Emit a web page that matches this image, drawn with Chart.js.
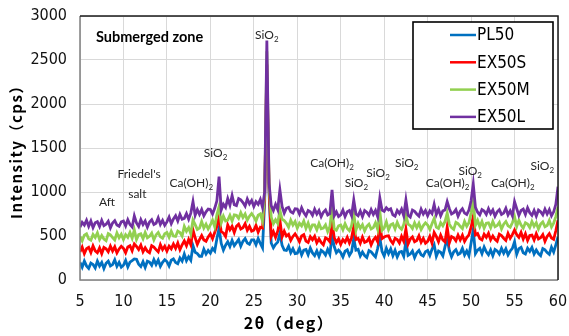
<!DOCTYPE html>
<html>
<head>
<meta charset="utf-8">
<script src="https://cdn.jsdelivr.net/npm/chart.js@4.4.1/dist/chart.umd.min.js"></script>
<style>
  html, body { margin: 0; padding: 0; background: #fff; }
  #wrap { width: 569px; height: 336px; }
</style>
</head>
<body>
<div id="wrap"><canvas id="xrdChart" width="569" height="336"></canvas></div>
<script>
// 2theta positions (deg), 0.25 deg step
const twoTheta = [
  5,5.25,5.5,5.75,6,6.25,6.5,6.75,7,7.25,7.5,7.75,8,8.25,8.5,8.75,9,9.25,9.5,9.75,
  10,10.25,10.5,10.75,11,11.25,11.5,11.75,12,12.25,12.5,12.75,13,13.25,13.5,13.75,14,14.25,14.5,14.75,
  15,15.25,15.5,15.75,16,16.25,16.5,16.75,17,17.25,17.5,17.75,18,18.25,18.5,18.75,19,19.25,19.5,19.75,
  20,20.25,20.5,20.75,21,21.25,21.5,21.75,22,22.25,22.5,22.75,23,23.25,23.5,23.75,24,24.25,24.5,24.75,
  25,25.25,25.5,25.75,26,26.25,26.5,26.75,27,27.25,27.5,27.75,28,28.25,28.5,28.75,29,29.25,29.5,29.75,
  30,30.25,30.5,30.75,31,31.25,31.5,31.75,32,32.25,32.5,32.75,33,33.25,33.5,33.75,34,34.25,34.5,34.75,
  35,35.25,35.5,35.75,36,36.25,36.5,36.75,37,37.25,37.5,37.75,38,38.25,38.5,38.75,39,39.25,39.5,39.75,
  40,40.25,40.5,40.75,41,41.25,41.5,41.75,42,42.25,42.5,42.75,43,43.25,43.5,43.75,44,44.25,44.5,44.75,
  45,45.25,45.5,45.75,46,46.25,46.5,46.75,47,47.25,47.5,47.75,48,48.25,48.5,48.75,49,49.25,49.5,49.75,
  50,50.25,50.5,50.75,51,51.25,51.5,51.75,52,52.25,52.5,52.75,53,53.25,53.5,53.75,54,54.25,54.5,54.75,
  55,55.25,55.5,55.75,56,56.25,56.5,56.75,57,57.25,57.5,57.75,58,58.25,58.5,58.75,59,59.25,59.5,59.75,
  60
];

const pl50 = [
  200,145,215,160,132,192,177,137,215,160,200,130,190,215,160,175,230,155,200,145,
  168,223,148,203,220,240,235,180,153,208,143,213,202,167,232,177,226,156,201,231,
  210,160,225,240,200,185,250,215,295,220,265,225,390,315,300,270,270,350,295,335,
  305,360,330,470,590,415,340,395,435,380,450,390,425,460,385,440,470,420,405,455,
  455,400,470,415,365,900,2300,1000,420,365,405,430,533,395,340,335,385,310,355,300,
  305,360,285,340,348,288,363,308,277,332,267,337,318,283,348,293,500,380,310,340,
  312,262,327,342,280,320,470,340,348,273,318,278,255,335,320,290,262,360,480,327,
  273,360,298,353,277,337,262,317,325,270,440,280,295,330,255,310,337,287,272,322,
  335,280,350,400,270,330,315,275,380,470,335,265,320,345,290,305,360,285,330,275,
  420,570,300,340,360,300,375,320,287,342,277,347,330,295,360,305,355,285,330,360,
  435,292,357,372,310,295,360,325,370,295,340,300,277,357,342,312,292,372,317,400,
  490
];

const ex50s = [
  320,375,300,355,372,312,387,332,310,365,300,370,355,320,385,330,378,308,353,383,
  360,310,375,390,332,410,382,347,397,322,367,327,310,390,375,345,320,400,345,385,
  330,385,355,410,360,420,345,400,445,390,460,400,570,480,405,460,505,455,440,490,
  525,470,540,610,720,550,535,495,625,570,610,540,610,635,580,595,640,565,610,555,
  565,620,545,600,590,950,2450,1050,495,550,485,555,682,490,555,500,520,450,495,525,
  485,435,500,515,442,427,492,457,497,422,467,427,400,480,465,435,660,482,427,467,
  405,460,430,485,420,480,610,460,473,418,488,428,440,475,400,455,485,435,620,470,
  488,500,503,448,415,475,460,420,495,440,580,410,465,490,435,450,503,428,473,418,
  440,495,420,540,495,435,510,455,433,600,423,493,480,445,510,455,508,438,483,513,
  600,720,513,528,470,455,520,485,531,456,501,461,440,520,505,475,450,530,475,515,
  568,515,485,540,465,525,450,505,511,456,526,466,480,515,440,495,527,477,462,560,
  680
];

const ex50m = [
  495,445,510,525,467,452,517,482,535,460,505,465,447,527,512,482,455,535,480,520,
  460,515,485,540,475,570,460,515,525,470,540,480,497,532,457,512,540,490,475,525,
  540,485,555,500,495,555,540,500,610,555,595,525,680,630,575,590,665,590,635,580,
  625,680,605,740,833,650,725,670,680,735,670,740,735,700,765,710,750,680,725,755,
  720,670,735,750,670,980,2600,1080,715,640,685,645,795,690,675,645,600,680,625,665,
  590,645,615,670,587,647,572,627,627,572,642,582,591,626,551,606,820,580,565,615,
  625,570,640,585,560,620,760,565,643,588,628,558,610,635,580,595,650,575,780,565,
  592,660,572,627,640,580,655,600,575,630,740,635,620,585,650,595,644,574,619,649,
  625,575,640,700,600,585,650,615,665,760,635,595,575,655,640,610,585,665,610,650,
  760,890,622,677,605,665,590,645,650,595,665,605,620,655,580,635,665,615,600,650,
  720,609,679,624,590,650,635,595,665,610,650,580,635,660,605,620,677,602,647,720,
  833
];

const ex50l = [
  600,655,625,680,610,670,595,650,662,607,677,617,633,668,593,648,675,625,610,660,
  670,615,685,630,603,727,648,608,685,630,670,600,660,685,630,645,707,632,677,622,
  660,715,640,695,730,670,745,690,700,755,690,760,890,735,800,745,800,730,775,805,
  800,750,815,900,1174,795,860,825,925,850,960,855,845,925,910,880,840,920,865,905,
  835,890,860,915,825,1000,2720,1100,845,790,860,800,1023,835,760,815,825,775,760,810,
  806,751,821,766,730,790,775,735,805,750,790,720,770,795,740,755,1023,730,775,720,
  740,795,720,775,790,730,909,750,730,785,720,790,770,735,800,745,790,720,932,795,
  780,820,795,810,740,725,790,755,805,730,909,735,715,795,780,750,725,805,750,790,
  730,785,755,860,745,805,730,785,795,890,810,750,765,800,725,780,810,760,745,795,
  900,1090,825,770,740,800,785,745,810,755,795,725,775,800,745,760,815,740,785,730,
  890,810,735,790,805,745,820,765,735,790,725,795,775,740,805,750,800,730,775,860,
  1060
];

const seriesNames = ['PL50', 'EX50S', 'EX50M', 'EX50L'];
const seriesColors = ['#0070C0', '#FF0000', '#92D050', '#7030A0'];
const seriesValues = [pl50, ex50s, ex50m, ex50l];

const xTicks = [5, 10, 15, 20, 25, 30, 35, 40, 45, 50, 55, 60];
const yTicks = [0, 500, 1000, 1500, 2000, 2500, 3000];

// peak annotations: text, subscript, 2theta, intensity
const peakLabels = [
  { t: 'SiO', s: '2', x: 26.5, y: 2784 },
  { t: 'Aft', s: '', x: 8.1, y: 886 },
  { t: "Friedel's", s: '', x: 11.8, y: 1205 },
  { t: 'salt', s: '', x: 11.6, y: 977 },
  { t: 'Ca(OH)', s: '2', x: 17.8, y: 1102 },
  { t: 'SiO', s: '2', x: 20.6, y: 1443 },
  { t: 'Ca(OH)', s: '2', x: 34.0, y: 1330 },
  { t: 'SiO', s: '2', x: 36.8, y: 1102 },
  { t: 'SiO', s: '2', x: 39.3, y: 1216 },
  { t: 'SiO', s: '2', x: 42.6, y: 1330 },
  { t: 'Ca(OH)', s: '2', x: 47.3, y: 1102 },
  { t: 'SiO', s: '2', x: 49.9, y: 1239 },
  { t: 'Ca(OH)', s: '2', x: 54.8, y: 1102 },
  { t: 'SiO', s: '2', x: 58.2, y: 1295 }
];

const narrowFont = "'Liberation Sans Narrow', 'DejaVu Sans Condensed', 'Liberation Sans', sans-serif";
const noteFont = "Lato, 'Open Sans', sans-serif";

// plot frame, annotations, legend and axis titles
const decorPlugin = {
  id: 'decor',
  afterDraw(chart) {
    const ctx = chart.ctx;
    const a = chart.chartArea;
    const xs = chart.scales.x, ys = chart.scales.y;
    ctx.save();

    // frame: gray axes, black plot border
    ctx.lineWidth = 1.5;
    ctx.strokeStyle = '#808080';
    ctx.beginPath();
    ctx.moveTo(a.left, a.top); ctx.lineTo(a.left, a.bottom); ctx.lineTo(a.right, a.bottom);
    ctx.stroke();
    ctx.strokeStyle = '#1a1a1a';
    ctx.beginPath();
    ctx.moveTo(a.left, a.top); ctx.lineTo(a.right, a.top); ctx.lineTo(a.right, a.bottom);
    ctx.stroke();

    // title inside plot
    ctx.fillStyle = '#000';
    ctx.font = 'bold 14.5px ' + noteFont;
    ctx.textAlign = 'left';
    ctx.textBaseline = 'middle';
    ctx.fillText('Submerged zone', 96, 37);

    // peak labels
    ctx.fillStyle = '#262626';
    peakLabels.forEach(p => {
      ctx.font = '12px ' + noteFont;
      const w1 = ctx.measureText(p.t).width;
      ctx.font = '8px ' + noteFont;
      const w2 = p.s ? ctx.measureText(p.s).width : 0;
      const left = xs.getPixelForValue(p.x) - (w1 + w2) / 2;
      const cy = ys.getPixelForValue(p.y);
      ctx.font = '12px ' + noteFont;
      ctx.fillText(p.t, left, cy);
      if (p.s) {
        ctx.font = '8px ' + noteFont;
        ctx.fillText(p.s, left + w1, cy + 4);
      }
    });

    // legend box
    ctx.fillStyle = '#fff';
    ctx.fillRect(413, 22, 140, 107);
    ctx.lineWidth = 1.6;
    ctx.strokeStyle = '#000';
    ctx.strokeRect(413, 22, 140, 107);
    ctx.font = '17px ' + narrowFont;
    seriesNames.forEach((name, i) => {
      const y = 35 + i * 27.3;
      ctx.strokeStyle = seriesColors[i];
      ctx.lineWidth = 2.5;
      ctx.beginPath();
      ctx.moveTo(450, y); ctx.lineTo(476, y);
      ctx.stroke();
      ctx.fillStyle = '#000';
      ctx.fillText(name, 477, y + 1);
    });

    // axis titles
    ctx.fillStyle = '#000';
    ctx.font = "bold 15px 'Noto Sans CJK JP', 'DejaVu Sans', sans-serif";
    ctx.letterSpacing = '1.5px';
    ctx.textAlign = 'center';
    ctx.save();
    ctx.translate(16, (a.top + a.bottom) / 2);
    ctx.rotate(-Math.PI / 2);
    ctx.fillText('Intensity（cps）', 0, 0);
    ctx.restore();
    ctx.font = "bold 16px 'Noto Sans CJK JP', 'DejaVu Sans', sans-serif";
    ctx.fillText('2θ（deg）', 289, 323);
    ctx.restore();
  }
};

document.addEventListener('DOMContentLoaded', function() {
  const ctx = document.getElementById('xrdChart').getContext('2d');
  const datasets = seriesNames.map((name, i) => ({
    label: name,
    data: twoTheta.map((t, j) => ({ x: t, y: seriesValues[i][j] })),
    borderColor: seriesColors[i],
    backgroundColor: seriesColors[i],
    borderWidth: 2.8,
    pointRadius: 0,
    tension: 0,
    order: 3 - i
  }));

  new Chart(ctx, {
    type: 'line',
    data: { datasets: datasets },
    options: {
      responsive: false,
      animation: false,
      devicePixelRatio: 1,
      layout: { padding: { left: 0, right: 11, top: 16, bottom: 0 } },
      plugins: {
        legend: { display: false },
        tooltip: { enabled: false }
      },
      scales: {
        x: {
          type: 'linear',
          min: 5,
          max: 60,
          afterBuildTicks: s => { s.ticks = xTicks.map(v => ({ value: v })); },
          afterFit: s => { s.height = 56; s.paddingLeft = 0; s.paddingRight = 0; },
          grid: { color: '#d9d9d9', lineWidth: 1, drawTicks: false },
          border: { display: false },
          ticks: {
            padding: 12,
            color: '#111',
            font: { family: narrowFont, size: 16 },
            maxRotation: 0,
            callback: v => String(v)
          }
        },
        y: {
          min: 0,
          max: 3000,
          afterBuildTicks: s => { s.ticks = yTicks.map(v => ({ value: v })); },
          afterFit: s => { s.width = 80; s.paddingTop = 0; s.paddingBottom = 0; },
          grid: { color: '#d9d9d9', lineWidth: 1, drawTicks: false },
          border: { display: false },
          ticks: {
            padding: 13,
            color: '#111',
            font: { family: narrowFont, size: 16 },
            callback: v => String(v)
          }
        }
      }
    },
    plugins: [decorPlugin]
  });
});
</script>
</body>
</html>
